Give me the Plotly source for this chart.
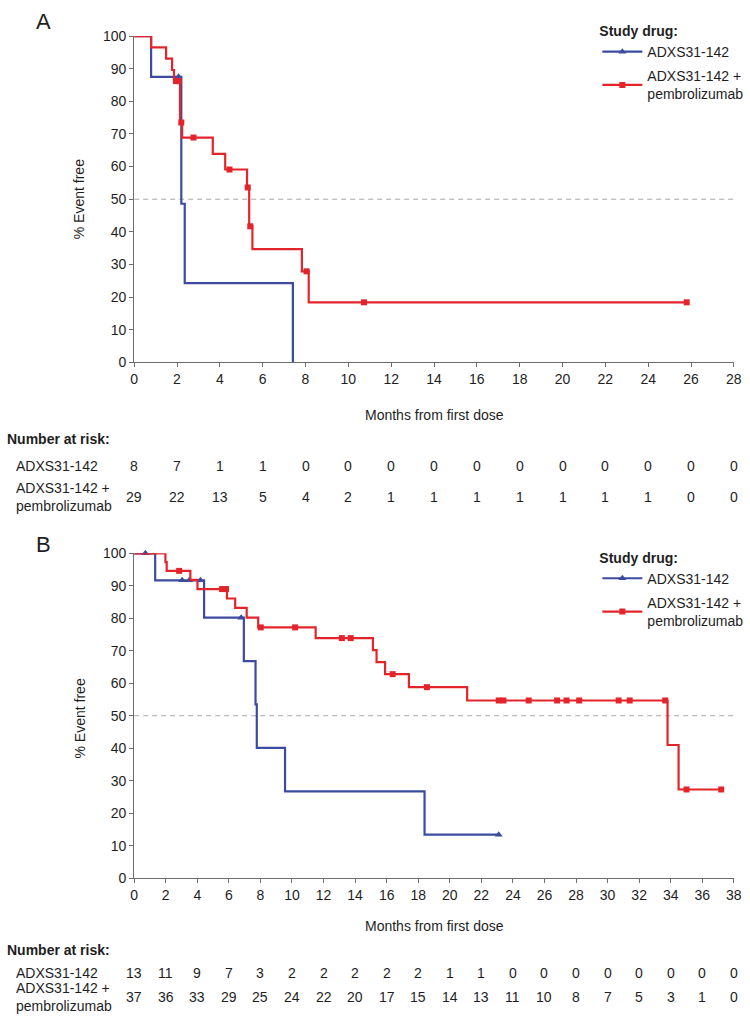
import plotly.graph_objects as go

W, H = 750, 1022
FONT = "Liberation Sans, Arial, sans-serif"
BLUE = "#3b4ba0"
RED = "#e3242b"
AXC = "#6e6e6e"
TXT = "#1e1e1e"

# ---------------- data: panel A ----------------
a_ticks = list(range(0, 30, 2))
a_blue_t = [0, 0.79, 2.20, 2.36, 7.41]
a_blue_s = [100, 87.5, 48.6, 24.3, 0]
a_blue_ct = [2.07]
a_blue_cs = [87.5]
a_red_t = [0, 0.79, 1.49, 1.77, 1.86, 2.14, 2.24, 3.67, 4.25, 5.27, 5.37, 5.52, 7.83, 8.15]
a_red_s = [100, 96.5, 93.1, 89.6, 86.2, 73.5, 68.9, 63.9, 59.1, 53.6, 41.7, 34.7, 27.9, 18.4]
a_red_ct = [1.95, 2.08, 2.20, 2.77, 4.45, 5.30, 5.42, 8.05, 10.73, 25.8]
a_red_cs = [86.2, 86.2, 73.5, 68.9, 59.1, 53.6, 41.7, 27.9, 18.4, 18.4]
a_risk_blue = [8, 7, 1, 1, 0, 0, 0, 0, 0, 0, 0, 0, 0, 0, 0]
a_risk_red = [29, 22, 13, 5, 4, 2, 1, 1, 1, 1, 1, 1, 1, 0, 0]

# ---------------- data: panel B ----------------
b_ticks = list(range(0, 40, 2))
b_blue_t = [0, 1.33, 4.43, 6.95, 7.69, 7.77, 9.56, 18.4]
b_blue_s = [100, 91.7, 80.2, 66.8, 53.5, 40.1, 26.7, 13.4]
b_blue_ct = [0.71, 3.04, 3.49, 4.20, 6.78, 23.1]
b_blue_cs = [100, 91.7, 91.7, 91.7, 80.2, 13.4]
b_red_t = [0, 1.98, 2.06, 3.56, 4.01, 5.88, 6.40, 7.13, 7.86, 11.5, 15.13, 15.36, 15.9,
           17.41, 21.1, 33.8, 34.5]
b_red_s = [100, 97.3, 94.6, 91.8, 89.0, 86.1, 83.2, 80.2, 77.2, 73.9, 70.2, 66.5, 62.8,
           58.8, 54.7, 41.0, 27.3]
b_red_ct = [2.85, 5.57, 5.82, 8.02, 10.2, 13.16, 13.72, 16.38, 18.55, 23.1, 23.4, 25.0,
            26.8, 27.4, 28.2, 30.7, 31.4, 33.65, 35.0, 37.2]
b_red_cs = [94.6, 89.0, 89.0, 77.2, 77.2, 73.9, 73.9, 62.8, 58.8, 54.7, 54.7, 54.7,
            54.7, 54.7, 54.7, 54.7, 54.7, 54.7, 27.3, 27.3]
b_risk_blue = [13, 11, 9, 7, 3, 2, 2, 2, 2, 2, 1, 1, 0, 0, 0, 0, 0, 0, 0, 0]
b_risk_red = [37, 36, 33, 29, 25, 24, 22, 20, 17, 15, 14, 13, 11, 10, 8, 7, 5, 3, 1, 0]

name_blue = "ADXS31-142"
name_red = "ADXS31-142 +<br>pembrolizumab"


def py(y):
    return 1 - y / H


fig = go.Figure()


def add_curve(t, s, ct, cs, color, symbol, msize, xa, ya):
    xs, ys = list(t), list(s)
    if ct and max(ct) > xs[-1]:
        xs.append(max(ct))
        ys.append(ys[-1])
    fig.add_trace(go.Scatter(x=xs, y=ys, mode="lines", line=dict(color=color, width=2.2, shape="hv"),
                             xaxis=xa, yaxis=ya, showlegend=False, cliponaxis=False, hoverinfo="skip"))
    fig.add_trace(go.Scatter(x=ct, y=cs, mode="markers",
                             marker=dict(color=color, symbol=symbol, size=msize, line=dict(width=0)),
                             xaxis=xa, yaxis=ya, showlegend=False, cliponaxis=False))


def add_legend(legend, xa, ya):
    fig.add_trace(go.Scatter(x=[None], y=[None], mode="lines+markers", name=name_blue,
                             line=dict(color=BLUE, width=2.2),
                             marker=dict(color=BLUE, symbol="triangle-up", size=7),
                             xaxis=xa, yaxis=ya, legend=legend, legendgroup=legend + "b"))
    fig.add_trace(go.Scatter(x=[None], y=[None], mode="lines+markers", name=name_red,
                             line=dict(color=RED, width=2.2),
                             marker=dict(color=RED, symbol="square", size=6),
                             xaxis=xa, yaxis=ya, legend=legend, legendgroup=legend + "r"))


for xa, ya, xmax in (("x", "y", 28), ("x2", "y2", 38)):
    fig.add_trace(go.Scatter(x=[0, xmax], y=[50, 50], mode="lines",
                             line=dict(color="#a8a8a8", width=1, dash="5px,4px"),
                             xaxis=xa, yaxis=ya, showlegend=False, hoverinfo="skip"))

add_curve(a_blue_t, a_blue_s, a_blue_ct, a_blue_cs, BLUE, "triangle-up", 7, "x", "y")
add_curve(a_red_t, a_red_s, a_red_ct, a_red_cs, RED, "square", 6, "x", "y")
add_curve(b_blue_t, b_blue_s, b_blue_ct, b_blue_cs, BLUE, "triangle-up", 7, "x2", "y2")
add_curve(b_red_t, b_red_s, b_red_ct, b_red_cs, RED, "square", 6, "x2", "y2")
add_legend("legend", "x", "y")
add_legend("legend2", "x2", "y2")

xdom = [132.3 / W, 741.7 / W]
axis_common = dict(showline=True, linecolor=AXC, linewidth=1.2, ticks="outside", ticklen=4,
                   tickcolor=AXC, tickwidth=1.2, showgrid=False, zeroline=False,
                   tickfont=dict(family=FONT, size=14, color=TXT), fixedrange=True)

leg_common = dict(xanchor="left", yanchor="top", bgcolor="rgba(0,0,0,0)", itemwidth=40,
                  font=dict(family=FONT, size=14, color=TXT), tracegroupgap=3,
                  title=dict(text="<b>Study drug:</b>", font=dict(family=FONT, size=14, color=TXT)))

fig.update_layout(
    width=W, height=H, margin=dict(l=0, r=0, t=0, b=0),
    paper_bgcolor="white", plot_bgcolor="white",
    font=dict(family=FONT, size=14, color=TXT),
    xaxis=dict(domain=xdom, range=[0, 28], tickvals=a_ticks, anchor="y", **axis_common),
    yaxis=dict(domain=[py(360), py(28.5)], range=[0, 100], tickvals=list(range(0, 101, 10)),
               anchor="x", **axis_common),
    xaxis2=dict(domain=xdom, range=[0, 38], tickvals=b_ticks, anchor="y2", **axis_common),
    yaxis2=dict(domain=[py(884), py(554)], range=[0, 100], tickvals=list(range(0, 101, 10)),
                anchor="x2", **axis_common),
    legend=dict(x=603 / W, y=py(10), **leg_common),
    legend2=dict(x=603 / W, y=py(545), **leg_common),
)

ann = []


def txt(text, x, y, xref="paper", xanchor="center", size=14, bold=False, align="center", angle=0):
    ann.append(dict(text=("<b>%s</b>" % text) if bold else text, x=x, y=y, xref=xref, yref="paper",
                    xanchor=xanchor, yanchor="middle", showarrow=False, align=align,
                    textangle=angle, font=dict(family=FONT, size=size, color=TXT)))


def panel_text(letter, top, axis_bottom, xref, ticks, rb, rr, months_y, nar_y, r1_y, r2_y):
    txt(letter, 40 / W, py(top), size=22)
    txt("% Event free", 77 / W, py((top + 15 + axis_bottom) / 2), angle=-90, size=14)
    txt("Months from first dose", (xdom[0] + xdom[1]) / 2, py(months_y), size=14)
    txt("Number at risk:", 1 / W, py(nar_y), xanchor="left", bold=True)
    txt(name_blue, 10 / W, py(r1_y), xanchor="left")
    txt(name_red, 10 / W, py(r2_y), xanchor="left", align="left")
    for t, v in zip(ticks, rb):
        txt(str(v), t, py(r1_y), xref=xref)
    for t, v in zip(ticks, rr):
        txt(str(v), t, py(r2_y), xref=xref)


panel_text("A", 14, 360, "x", a_ticks, a_risk_blue, a_risk_red, 413, 438, 465, 497)
panel_text("B", 545, 884, "x2", b_ticks, b_risk_blue, b_risk_red, 933, 957, 980, 1005)

fig.update_layout(annotations=ann)
fig.write_html(
    "out.html",
    config={"displayModeBar": False},
    post_script="document.body.style.margin='0px';document.body.style.padding='0px';"
                "document.documentElement.style.overflow='hidden';document.body.style.overflow='hidden';",
)
